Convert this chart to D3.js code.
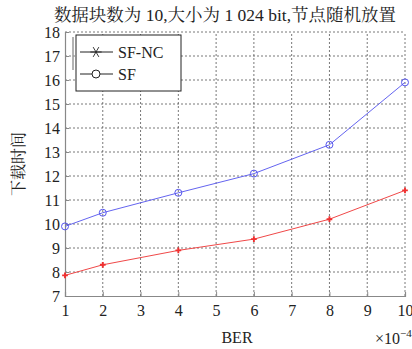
<!DOCTYPE html>
<html>
<head>
<meta charset="utf-8">
<script src="https://cdn.jsdelivr.net/npm/d3@7"></script>
</head>
<body style="margin:0; background:#fff">
<div id="chart"></div>
<script>
// data
const berValues = [1, 2, 4, 6, 8, 10]
const sfncTimes = [7.86, 8.3, 8.9, 9.37, 10.2, 11.4]
const sfTimes = [9.9, 10.47, 11.3, 12.1, 13.3, 15.9]
const xTicks = [1, 2, 3, 4, 5, 6, 7, 8, 9, 10]
const yTicks = [7, 8, 9, 10, 11, 12, 13, 14, 15, 16, 17, 18]
const seriesNames = ["SF-NC", "SF"]

// serif only renders reliably at 16px here
const FONT = "'Liberation Serif', 'Noto Serif CJK SC', 'Noto Sans CJK SC'"

const width = 412
const height = 349
const margin = {top: 32, right: 7, bottom: 53, left: 65}

const $svg = d3.select("#chart").append("svg")
    .attr("width", width)
    .attr("height", height)

const xScale = d3.scaleLinear()
    .domain([1, 10])
    .range([margin.left, width - margin.right])

const yScale = d3.scaleLinear()
    .domain([7, 18])
    .range([height - margin.bottom, margin.top])

// title
$svg.append("text")
    .attr("x", 225)
    .attr("y", 21)
    .attr("text-anchor", "middle")
    .style("font-family", FONT)
    .style("font-size", "17.5px")
    .attr("fill", "#222")
    .text("数据块数为 10,大小为 1 024 bit,节点随机放置")

// grid
const $grid = $svg.append("g")
$grid.selectAll("line.gx")
    .data(xTicks.slice(1))
    .enter().append("line")
    .attr("x1", d => xScale(d)).attr("x2", d => xScale(d))
    .attr("y1", yScale(7)).attr("y2", yScale(18))
    .attr("stroke", "#555").attr("stroke-width", 0.8)
    .attr("stroke-dasharray", "2,2")
$grid.selectAll("line.gy")
    .data(yTicks.slice(1))
    .enter().append("line")
    .attr("y1", d => yScale(d)).attr("y2", d => yScale(d))
    .attr("x1", xScale(1)).attr("x2", xScale(10))
    .attr("stroke", "#555").attr("stroke-width", 0.8)
    .attr("stroke-dasharray", "2,2")

// axes
const xAxis = g => g.attr("transform", `translate(0, ${yScale(7)})`)
    .call(d3.axisBottom(xScale).tickValues(xTicks).tickSize(-4).tickPadding(9).tickFormat(d3.format("d")))
const yAxis = g => g.attr("transform", `translate(${xScale(1)}, 0)`)
    .call(d3.axisLeft(yScale).tickValues(yTicks).tickSize(-4).tickPadding(5).tickFormat(d3.format("d")))

$svg.append("g").call(xAxis).attr("font-family", null).attr("font-size", null)
$svg.append("g").call(yAxis).attr("font-family", null).attr("font-size", null)
$svg.selectAll(".domain").attr("stroke", "#888").attr("stroke-width", 1.2)
$svg.selectAll(".tick line").attr("stroke", "#888")
$svg.selectAll(".tick text")
    .style("font-family", FONT)
    .style("font-size", "16px")
    .attr("fill", "#222")

// axis titles
$svg.append("text")
    .attr("x", 237)
    .attr("y", 343)
    .attr("text-anchor", "middle")
    .style("font-family", FONT)
    .style("font-size", "16px")
    .attr("fill", "#222")
    .text("BER")

$svg.append("text")
    .attr("x", 375)
    .attr("y", 344)
    .style("font-family", FONT)
    .style("font-size", "16px")
    .attr("fill", "#222")
    .html("×10<tspan dy='-7' font-size='11px'>−4</tspan>")

$svg.append("text")
    .attr("transform", `translate(24, ${(yScale(7) + yScale(18)) / 2}) rotate(-90)`)
    .attr("text-anchor", "middle")
    .style("font-family", FONT)
    .style("font-size", "16px")
    .attr("fill", "#222")
    .text("下载时间")

// lines
const line = d3.line()
    .x(d => xScale(d[0]))
    .y(d => yScale(d[1]))

const sfncData = berValues.map((b, i) => [b, sfncTimes[i]])
const sfData = berValues.map((b, i) => [b, sfTimes[i]])

$svg.append("path")
    .datum(sfData)
    .attr("d", line)
    .attr("fill", "none")
    .attr("stroke", "#6464f0")
    .attr("stroke-width", 1)

$svg.append("path")
    .datum(sfncData)
    .attr("d", line)
    .attr("fill", "none")
    .attr("stroke", "#f04848")
    .attr("stroke-width", 1)

$svg.selectAll("circle.sf")
    .data(sfData)
    .enter().append("circle")
    .attr("class", "sf")
    .attr("cx", d => xScale(d[0]))
    .attr("cy", d => yScale(d[1]))
    .attr("r", 3.5)
    .attr("fill", "none")
    .attr("stroke", "#5555ee")

$svg.selectAll("path.nc")
    .data(sfncData)
    .enter().append("path")
    .attr("class", "nc")
    .attr("d", d3.symbol().type(d3.symbolCross).size(18))
    .attr("transform", d => `translate(${xScale(d[0])},${yScale(d[1])})`)
    .attr("fill", "#f03030")

// legend
const $legend = $svg.append("g")
$legend.append("line")
    .attr("x1", 73).attr("x2", 73)
    .attr("y1", 37).attr("y2", 70)
    .attr("stroke", "#999").attr("stroke-width", 1.5)
$legend.append("rect")
    .attr("x", 76).attr("y", 35)
    .attr("width", 105).attr("height", 56)
    .attr("fill", "#fff")
    .attr("stroke", "#222")
    .attr("stroke-width", 1)

seriesNames.forEach((name, i) => {
    const y = 52 + i * 22
    $legend.append("line")
        .attr("x1", 80).attr("x2", 113)
        .attr("y1", y).attr("y2", y)
        .attr("stroke", "#222")
    if (i === 0) {
        $legend.append("path")
            .attr("d", d3.symbol().type(d3.symbolAsterisk).size(90))
            .attr("transform", `translate(96,${y}) rotate(30)`)
            .attr("stroke", "#222")
            .attr("stroke-width", 0.8)
            .attr("fill", "none")
    } else {
        $legend.append("circle")
            .attr("cx", 96).attr("cy", y).attr("r", 4)
            .attr("fill", "#fff").attr("stroke", "#222")
    }
    $legend.append("text")
        .attr("x", 118).attr("y", y + 6)
        .style("font-family", FONT)
        .style("font-size", "16px")
        .attr("fill", "#222")
        .text(name)
})
</script>
</body>
</html>
